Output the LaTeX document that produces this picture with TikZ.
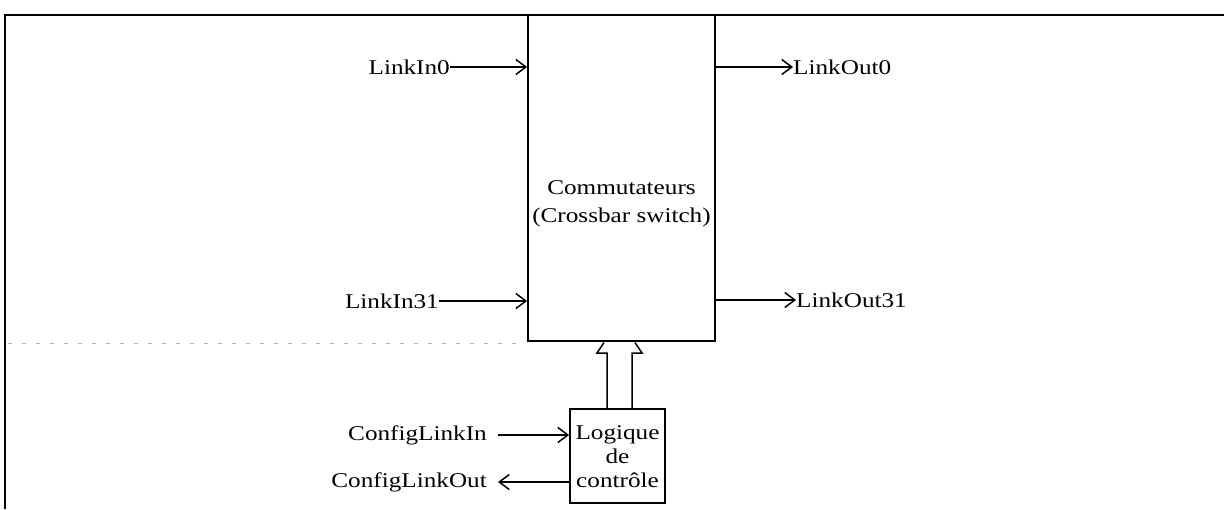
\documentclass[tikz,border=0pt]{standalone}
\usepackage{fontspec}
\setmainfont{Liberation Serif}[FakeStretch=1.2]
\usetikzlibrary{arrows.meta}
\tikzset{
  lbl/.style={inner sep=0pt, font=\fontsize{21}{24}\selectfont},
  blk/.style={draw, line width=1.8pt, inner sep=0pt},
  arr/.style={line width=1.2pt, -{Straight Barb[length=10pt,width=15pt,line width=1.5pt]}},
}
\begin{document}
\begin{tikzpicture}[x=1pt,y=-1pt]
\useasboundingbox (0,0) rectangle (1224,509);
% frame
\draw[line width=2pt] (5,509) -- (5,15) -- (1224,15);
% faint scan line
\draw[gray!60, line width=0.8pt, dash pattern=on 4pt off 10pt] (8,343) -- (526,343);
% main switch box
\node[blk, minimum width=187pt, minimum height=326pt, align=center] (sw) at (621.5,178) {};
\node[lbl, align=center] (swt) at (621.5,204) {Commutateurs\\[4pt](Crossbar switch)};
% control logic box
\node[blk, minimum width=95pt, minimum height=94pt] (lg) at (617.5,456) {};
\node[lbl, align=center] (lgt) at (617.5,457) {Logique\\[0pt]de\\[0pt]contrôle};
% labels
\node[lbl, anchor=east] (in0) at (450,67) {LinkIn0};
\node[lbl, anchor=east] (in31) at (439,301) {LinkIn31};
\node[lbl, anchor=west] (out0) at (793,67) {LinkOut0};
\node[lbl, anchor=west] (out31) at (796,300) {LinkOut31};
\node[lbl, anchor=east] (cin) at (487,435) {ConfigLinkIn};
\node[lbl, anchor=east] (cout) at (487,482) {ConfigLinkOut};
% connectors
\draw[arr] (in0.east) -- (sw.west |- in0.east);
\draw[arr] (in31.east) -- (sw.west |- in31.east);
\draw[arr] (sw.east |- out0.west) -- (out0.west);
\draw[arr] (sw.east |- out31.west) -- (out31.west);
\draw[arr] ([xshift=11pt]cin.east) -- (lg.west |- cin.east);
\draw[arr] (lg.west |- cout.east) -- ([xshift=11pt]cout.east);
% wide arrow from logic to switch
\draw[line width=1.5pt, line join=miter]
  (lg.north -| 607,0) -- (607,353) -- (597,353) -- (604,342.5)
  (635,342.5) -- (642,353) -- (632,353) -- (lg.north -| 632,0);
\end{tikzpicture}
\end{document}
